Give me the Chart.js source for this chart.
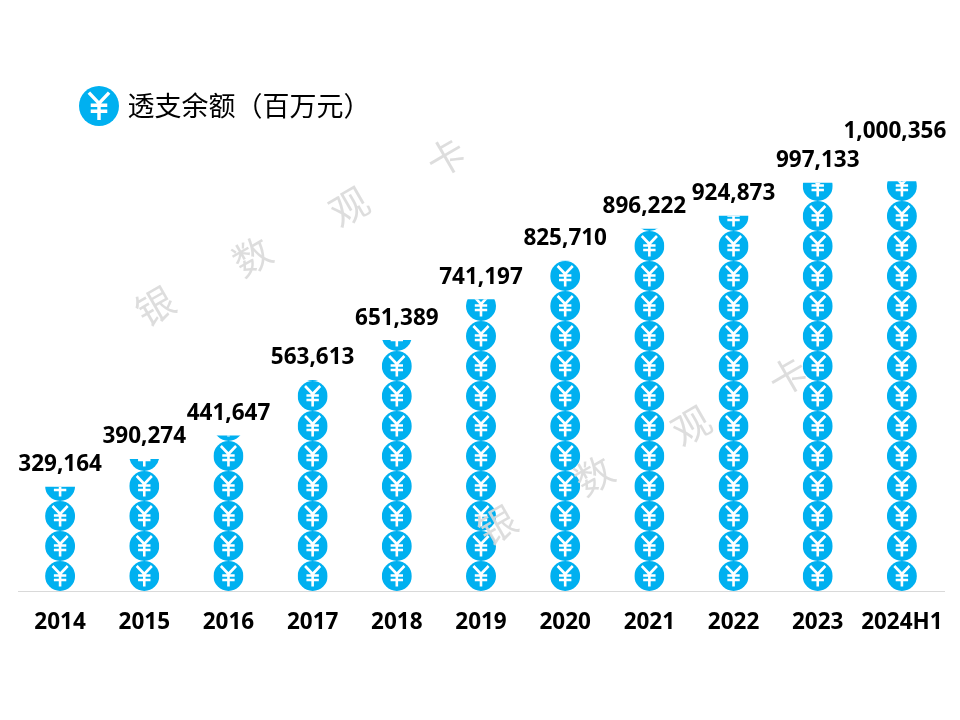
<!DOCTYPE html>
<html>
<head>
<meta charset="utf-8">
<style>
  html, body { margin: 0; background: #fff; }
  #wrap { width: 960px; height: 720px; }
</style>
<script src="https://cdn.jsdelivr.net/npm/chart.js@4"></script>
</head>
<body>
<div id="wrap"><canvas id="c" width="960" height="720"></canvas></div>
<script>
const categories = ['2014', '2015', '2016', '2017', '2018', '2019', '2020', '2021', '2022', '2023', '2024H1'];
const overdraft = [329164, 390274, 441647, 563613, 651389, 741197, 825710, 896222, 924873, 997133, 1000356];
const legendText = '透支余额（百万元）';
const watermark = ['银', '数', '观', '卡'];

const BLUE = '#00b0f0';
const numFont = 'bold 22.5px "Open Sans", "Noto Sans", sans-serif';
const cjkFont = '"Noto Sans CJK SC", sans-serif';
// the labels that sit off their bars in the original
const labelNudge = { '2021': [-5, 0], '2024H1': [-7, -28] };

function drawCoin(ctx, cx, cy, r) {
  const k = r / 15;
  ctx.save();
  ctx.fillStyle = BLUE;
  ctx.beginPath();
  ctx.arc(cx, cy, r, 0, Math.PI * 2);
  ctx.fill();
  ctx.strokeStyle = '#fff';
  ctx.lineWidth = 2.6 * k;
  ctx.beginPath();
  ctx.moveTo(cx - 7.6 * k, cy - 10 * k);
  ctx.lineTo(cx, cy - 2 * k);
  ctx.lineTo(cx + 7.6 * k, cy - 10 * k);
  ctx.moveTo(cx, cy - 2 * k);
  ctx.lineTo(cx, cy + 10.5 * k);
  ctx.moveTo(cx - 6.2 * k, cy - 0.5 * k);
  ctx.lineTo(cx + 6.2 * k, cy - 0.5 * k);
  ctx.moveTo(cx - 6.2 * k, cy + 4 * k);
  ctx.lineTo(cx + 6.2 * k, cy + 4 * k);
  ctx.stroke();
  ctx.restore();
}

const coinBars = {
  id: 'coinBars',
  afterDatasetsDraw(chart) {
    const ctx = chart.ctx;
    const bars = chart.getDatasetMeta(0).data;
    bars.forEach((bar, i) => {
      const w = bar.width;
      const left = bar.x - w / 2;
      ctx.save();
      ctx.beginPath();
      ctx.rect(left, bar.y, w, bar.base - bar.y);
      ctx.clip();
      // stack coins upward from the baseline, clipped at the bar's value
      for (let y = bar.base - w / 2; y + w / 2 > bar.y; y -= w) {
        drawCoin(ctx, bar.x, y, w / 2);
      }
      ctx.restore();

      const nudge = labelNudge[categories[i]] || [0, 0];
      ctx.save();
      ctx.font = numFont;
      ctx.fillStyle = '#000';
      ctx.textAlign = 'center';
      ctx.textBaseline = 'middle';
      ctx.fillText(overdraft[i].toLocaleString('en-US'), bar.x + nudge[0], bar.y - 22 + nudge[1]);
      ctx.restore();
    });

    // legend
    drawCoin(ctx, 99, 106, 20);
    ctx.save();
    ctx.font = '27px ' + cjkFont;
    ctx.fillStyle = '#000';
    ctx.textBaseline = 'middle';
    ctx.fillText(legendText, 127.5, 106);
    ctx.restore();

    // watermark runs
    [[155, 306], [497, 525]].forEach(start => {
      watermark.forEach((ch, j) => {
        ctx.save();
        ctx.translate(start[0] + j * 97, start[1] - j * 49.7);
        ctx.rotate(-Math.PI / 6);
        ctx.font = '38px ' + cjkFont;
        ctx.fillStyle = 'rgba(217,217,217,0.9)';
        ctx.textAlign = 'center';
        ctx.textBaseline = 'middle';
        ctx.fillText(ch, 0, 0);
        ctx.restore();
      });
    });
  }
};

new Chart(document.getElementById('c'), {
  type: 'bar',
  data: {
    labels: categories,
    datasets: [{
      data: overdraft,
      base: 100000,
      backgroundColor: 'rgba(0,0,0,0)',
      barThickness: 30
    }]
  },
  options: {
    responsive: false,
    animation: false,
    layout: { padding: { left: 18, right: 16, top: 136, bottom: 66 } },
    plugins: { legend: { display: false }, tooltip: { enabled: false } },
    scales: {
      x: {
        // the wide last label must not push the plot edge in
        afterFit(scale) { scale.paddingLeft = 0; scale.paddingRight = 0; },
        grid: { display: false, drawTicks: false },
        border: { color: '#d9d9d9', width: 1 },
        ticks: { color: '#000', font: { family: '"Open Sans", "Noto Sans", sans-serif', size: 22.5, weight: 'bold' }, padding: 18, maxRotation: 0, autoSkip: false }
      },
      y: {
        display: false,
        min: 100000,
        max: 1100000
      }
    }
  },
  plugins: [coinBars]
});
</script>
</body>
</html>
